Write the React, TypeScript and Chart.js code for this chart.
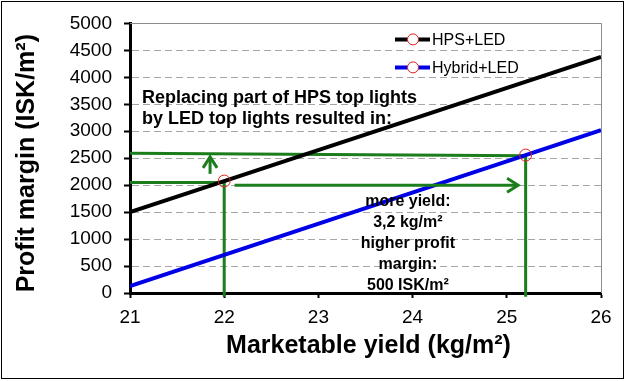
import React, { useEffect, useRef } from "react";
import { Chart, registerables } from "chart.js";

Chart.register(...registerables);

// ---- data ----
const yieldTicks = [21, 22, 23, 24, 25, 26];
const profitTicks = [0, 500, 1000, 1500, 2000, 2500, 3000, 3500, 4000, 4500, 5000];

const hpsYield = [21, 22, 26];
const hpsProfit = [1500, 2076, 4380];
const hybridYield = [21, 25.2, 26];
const hybridProfit = [130, 2558, 3020];
const markerYield = [22, 25.2];

const lowGuideYield = [21, 22, 22];
const lowGuideProfit = [2050, 2050, -70];
const highGuideYield = [21, 25.2, 25.2];
const highGuideProfit = [2590, 2545, -70];

const yieldArrowX = [22.11, 25.12];
const yieldArrowY = [2000, 2000];
const profitArrowX = [21.85, 21.85];
const profitArrowY = [2210, 2525];

const seriesNames = ["HPS+LED", "Hybrid+LED"];
const seriesColors = ["#000000", "#0000e6"];
const headline = ["Replacing part of HPS top lights", "by LED top lights resulted in:"];
const resultLines = ["more yield:", "3,2 kg/m²", "higher profit", "margin:", "500 ISK/m²"];
const xTitle = "Marketable yield (kg/m²)";
const yTitle = "Profit margin (ISK/m²)";

const FONT = "'Liberation Sans', Arial, sans-serif";
const GREEN = "#1b7d1b";
const MARKER = "#e02020";

const pts = (xs: number[], ys: number[]) => xs.map((x, i) => ({ x, y: ys[i] }));

const decor = {
  id: "decor",
  beforeDraw(chart: any) {
    const { ctx, width, height } = chart;
    ctx.save();
    ctx.fillStyle = "#ffffff";
    ctx.fillRect(0, 0, width, height);
    ctx.restore();
  },
  afterDatasetsDraw(chart: any) {
    const { ctx, chartArea: a, scales } = chart;
    const xs = scales.x, ys = scales.y;
    ctx.save();
    // plot frame (top and right)
    ctx.strokeStyle = "#8c8c8c";
    ctx.lineWidth = 1;
    ctx.beginPath();
    ctx.moveTo(a.left, Math.round(a.top) + 0.5);
    ctx.lineTo(Math.round(a.right) + 0.5, Math.round(a.top) + 0.5);
    ctx.lineTo(Math.round(a.right) + 0.5, a.bottom);
    ctx.stroke();

    // arrows
    const arrow = (xv: number[], yv: number[]) => {
      const x1 = xs.getPixelForValue(xv[0]), y1 = ys.getPixelForValue(yv[0]);
      const x2 = xs.getPixelForValue(xv[1]), y2 = ys.getPixelForValue(yv[1]);
      const ang = Math.atan2(y2 - y1, x2 - x1);
      ctx.strokeStyle = GREEN;
      ctx.lineWidth = 3;
      ctx.lineCap = "butt";
      ctx.lineJoin = "miter";
      ctx.beginPath();
      ctx.moveTo(x1, y1);
      ctx.lineTo(x2 - Math.cos(ang) * 1.5, y2 - Math.sin(ang) * 1.5);
      ctx.stroke();
      const L = 11, W = 7;
      ctx.beginPath();
      ctx.moveTo(x2 - Math.cos(ang) * L - Math.sin(ang) * W, y2 - Math.sin(ang) * L + Math.cos(ang) * W);
      ctx.lineTo(x2, y2);
      ctx.lineTo(x2 - Math.cos(ang) * L + Math.sin(ang) * W, y2 - Math.sin(ang) * L - Math.cos(ang) * W);
      ctx.stroke();
    };
    arrow(yieldArrowX, yieldArrowY);
    arrow(profitArrowX, profitArrowY);

    // headline text
    ctx.fillStyle = "#000";
    ctx.font = `bold 18px ${FONT}`;
    ctx.textAlign = "left";
    ctx.textBaseline = "alphabetic";
    headline.forEach((t, i) => ctx.fillText(t, a.left + 12, a.top + 80 + i * 21));

    // result text
    ctx.font = `bold 16px ${FONT}`;
    ctx.textAlign = "center";
    const cx = xs.getPixelForValue(23.95);
    resultLines.forEach((t, i) => ctx.fillText(t, cx, a.top + 183 + i * 21));

    // legend
    ctx.font = `16px ${FONT}`;
    ctx.textAlign = "left";
    ctx.textBaseline = "middle";
    seriesNames.forEach((n, i) => {
      const y = a.top + 16 + i * 28;
      const lx = a.right - 206;
      ctx.strokeStyle = seriesColors[i];
      ctx.lineWidth = 4;
      ctx.beginPath();
      ctx.moveTo(lx, y);
      ctx.lineTo(lx + 35, y);
      ctx.stroke();
      ctx.fillStyle = "#fff";
      ctx.strokeStyle = MARKER;
      ctx.lineWidth = 1;
      ctx.beginPath();
      ctx.arc(lx + 18, y, 5.5, 0, Math.PI * 2);
      ctx.fill();
      ctx.stroke();
      ctx.fillStyle = "#000";
      ctx.fillText(n, lx + 37, y + 1);
    });
    ctx.restore();
  },
  afterDraw(chart: any) {
    const { ctx, chartArea: a, width, height } = chart;
    ctx.save();
    ctx.fillStyle = "#000";
    ctx.font = `bold 25px ${FONT}`;
    ctx.textAlign = "center";
    ctx.textBaseline = "alphabetic";
    ctx.fillText(xTitle, (a.left + a.right) / 2 + 3, 353);
    ctx.save();
    ctx.translate(34, (a.top + a.bottom) / 2 + 5);
    ctx.rotate(-Math.PI / 2);
    ctx.fillText(yTitle, 0, 0);
    ctx.restore();
    // outer border
    ctx.strokeStyle = "#000";
    ctx.lineWidth = 1;
    ctx.strokeRect(1.5, 1.5, width - 4, height - 4);
    ctx.restore();
  },
};

export default function App() {
  const ref = useRef<HTMLCanvasElement>(null);
  useEffect(() => {
    const canvas = ref.current!;
    const lineDs = (label: string, xs: number[], ys: number[], color: string) => ({
      label,
      data: pts(xs, ys),
      showLine: true,
      borderColor: color,
      borderWidth: 4,
      pointRadius: xs.map((x) => (markerYield.includes(x) ? 6 : 0)),
      pointHoverRadius: 0,
      pointBorderColor: MARKER,
      pointBorderWidth: 1,
      pointBackgroundColor: "rgba(0,0,0,0)",
    });
    const guideDs = (xs: number[], ys: number[]) => ({
      label: "guide",
      data: pts(xs, ys),
      showLine: true,
      borderColor: GREEN,
      borderWidth: 3,
      pointRadius: 0,
      pointHoverRadius: 0,
      borderJoinStyle: "miter",
      borderCapStyle: "butt",
      clip: false,
    });
    const chart = new Chart(canvas, {
      type: "scatter",
      data: {
        datasets: [
          lineDs(seriesNames[0], hpsYield, hpsProfit, seriesColors[0]),
          lineDs(seriesNames[1], hybridYield, hybridProfit, seriesColors[1]),
          guideDs(lowGuideYield, lowGuideProfit),
          guideDs(highGuideYield, highGuideProfit),
        ] as any,
      },
      options: {
        animation: false,
        responsive: false,
        devicePixelRatio: 1,
        events: [],
        layout: { padding: { top: 15, right: 25, left: 0, bottom: 0 } },
        plugins: { legend: { display: false }, tooltip: { enabled: false } },
        scales: {
          x: {
            type: "linear",
            min: yieldTicks[0],
            max: yieldTicks[yieldTicks.length - 1],
            afterBuildTicks: (s: any) => {
              s.ticks = yieldTicks.map((v) => ({ value: v }));
            },
            afterFit: (s: any) => {
              s.height = 88;
            },
            ticks: {
              color: "#000",
              font: { family: FONT, size: 19 },
              padding: 8,
              callback: (v: any) => String(v),
            },
            grid: {
              drawOnChartArea: false,
              drawTicks: true,
              tickLength: 5,
              tickColor: "#000",
              tickWidth: 2,
            },
            border: { display: true, color: "#000", width: 3 },
          },
          y: {
            type: "linear",
            min: profitTicks[0],
            max: profitTicks[profitTicks.length - 1],
            afterBuildTicks: (s: any) => {
              s.ticks = profitTicks.map((v) => ({ value: v }));
            },
            afterFit: (s: any) => {
              s.width = 130;
            },
            ticks: {
              color: "#000",
              font: { family: FONT, size: 19 },
              padding: 12,
              callback: (v: any) => String(v),
            },
            grid: {
              color: (c: any) =>
                c.tick && (c.tick.value === profitTicks[0] || c.tick.value === profitTicks[profitTicks.length - 1])
                  ? "rgba(0,0,0,0)"
                  : "#a6a6a6",
              lineWidth: 1,
              drawTicks: true,
              tickLength: 6,
              tickColor: "#000",
              tickWidth: 2,
              tickBorderDash: [],
            },
            border: { display: true, color: "#000", width: 3, dash: [7, 4] },
          },
        },
      } as any,
      plugins: [decor],
    });
    return () => chart.destroy();
  }, []);
  return (
    <div style={{ position: "absolute", left: 0, top: 0, width: 626, height: 381 }}>
      <canvas ref={ref} width={626} height={381} style={{ display: "block", width: 626, height: 381 }} />
    </div>
  );
}
